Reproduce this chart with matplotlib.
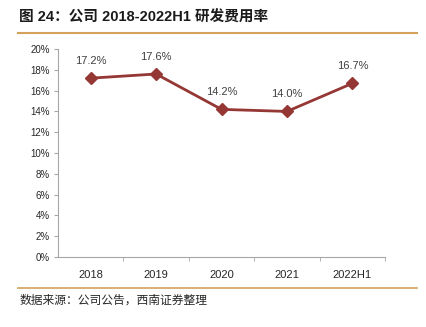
import matplotlib.pyplot as plt
from matplotlib.lines import Line2D
from matplotlib.ticker import MultipleLocator, FuncFormatter

plt.rcParams['font.family'] = ['Liberation Sans', 'Noto Sans CJK SC', 'DejaVu Sans']

years = ["2018", "2019", "2020", "2021", "2022H1"]
rate = [17.2, 17.6, 14.2, 14.0, 16.7]

line_color = "#953735"
grey = "#A6A6A6"

fig = plt.figure(figsize=(4.26, 3.27), dpi=100)
ax = fig.add_axes([0.136, 0.214, 0.768, 0.636])

x = range(len(years))
ax.plot(x, rate, color=line_color, lw=2, marker="D", ms=6, zorder=3)
for i, v in zip(x, rate):
    ax.annotate(f"{v:.1f}%", (i, v), xytext=(0, 9), textcoords="offset points",
                ha="center", va="bottom", fontsize=8, color="#404040")

ax.set_xlim(-0.5, len(years) - 0.5)
ax.set_ylim(0, 20)
ax.yaxis.set_major_locator(MultipleLocator(2))
ax.yaxis.set_major_formatter(FuncFormatter(lambda v, p: f"{v:.0f}%"))
ax.set_xticks(list(x))
ax.set_xticklabels(years)
ax.set_xticks([i + 0.5 for i in x], minor=True)
ax.tick_params(axis="x", which="major", length=0, pad=9, labelsize=8, labelcolor="#262626")
ax.tick_params(axis="x", which="minor", length=3, color=grey, direction="out")
ax.tick_params(axis="y", length=3, color=grey, labelsize=7, labelcolor="#262626", pad=3)

for s in ["top", "right"]:
    ax.spines[s].set_visible(False)
for s in ["left", "bottom"]:
    ax.spines[s].set_color(grey)
    ax.spines[s].set_linewidth(0.8)

fig.text(0.045, 0.945, "图 24：公司 2018-2022H1 研发费用率", fontsize=10.5,
         fontweight="bold", ha="left", va="center", color="#1a1a1a")
fig.add_artist(Line2D([0.042, 0.98], [0.899, 0.899], color="#D4A15A", lw=1.5))
fig.add_artist(Line2D([0.042, 0.98], [0.119, 0.119], color="#D4A15A", lw=1.2))
fig.text(0.045, 0.08, "数据来源：公司公告，西南证券整理", fontsize=8.5,
         style="italic", ha="left", va="center", color="#262626")

fig.savefig("out.png", dpi=100)
